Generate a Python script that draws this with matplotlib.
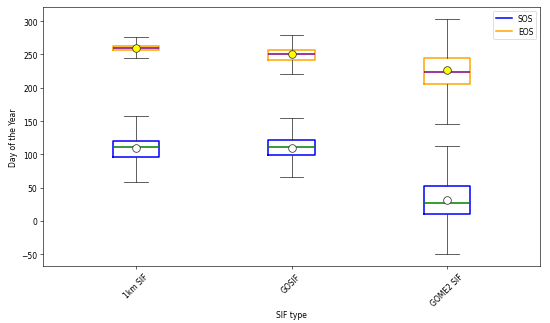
import matplotlib.pyplot as plt
import numpy as np

# SIF 产品类别
sif_types = ['1km SIF', 'GOSIF', 'GOME2 SIF']

# SOS 箱线图统计量 (下须, Q1, 中位数, Q3, 上须, 均值)
sos_whislo = [58, 66, -50]
sos_q1 = [96, 99, 10]
sos_med = [111, 111, 27]
sos_q3 = [120, 121, 53]
sos_whishi = [157, 154, 112]
sos_mean = [109, 110, 31]

# EOS 箱线图统计量
eos_whislo = [244, 220, 145]
eos_q1 = [256, 242, 205]
eos_med = [260, 250, 223]
eos_q3 = [263, 257, 244]
eos_whishi = [276, 279, 303]
eos_mean = [260, 250, 226]


def make_stats(lo, q1, med, q3, hi, mean):
    stats = []
    for i in range(len(lo)):
        stats.append({'whislo': lo[i], 'q1': q1[i], 'med': med[i], 'q3': q3[i],
                      'whishi': hi[i], 'mean': mean[i], 'fliers': []})
    return stats


fig = plt.figure(figsize=(10, 5.89), dpi=55)
ax = fig.add_axes([0.078, 0.176, 0.904, 0.799])
pos = np.arange(1, len(sif_types) + 1)

# 绘制 SOS
ax.bxp(make_stats(sos_whislo, sos_q1, sos_med, sos_q3, sos_whishi, sos_mean),
       positions=pos, widths=0.3, showmeans=True, manage_ticks=False,
       boxprops=dict(color='blue', linewidth=2),
       medianprops=dict(color='green', linewidth=2),
       whiskerprops=dict(color='#333333'), capprops=dict(color='#333333'),
       meanprops=dict(marker='o', markerfacecolor='white', markeredgecolor='#333333', markersize=10))

# 绘制 EOS
ax.bxp(make_stats(eos_whislo, eos_q1, eos_med, eos_q3, eos_whishi, eos_mean),
       positions=pos, widths=0.3, showmeans=True, manage_ticks=False,
       boxprops=dict(color='orange', linewidth=2),
       medianprops=dict(color='purple', linewidth=2),
       whiskerprops=dict(color='#333333'), capprops=dict(color='#333333'),
       meanprops=dict(marker='o', markerfacecolor='yellow', markeredgecolor='#333333', markersize=10))

ax.set_xticks(pos)
ax.set_xticklabels(sif_types, rotation=45)
ax.set_xlim(0.4, 3.6)
ax.set_ylim(-67.5, 321)
ax.set_xlabel('SIF type')
ax.set_ylabel('Day of the Year')

# 图例
ax.plot([], [], color='blue', linewidth=2, label='SOS')
ax.plot([], [], color='orange', linewidth=2, label='EOS')
ax.legend(loc='upper right')

plt.savefig('out.png', dpi=55)
